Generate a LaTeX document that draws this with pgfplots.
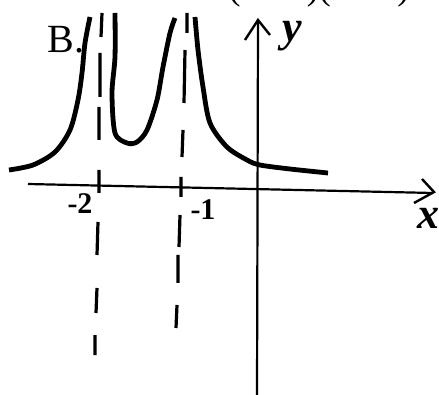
\documentclass[border=0pt]{standalone}
\usepackage{fontspec}
\setmainfont{Liberation Serif}
\usepackage{pgfplots}
\pgfplotsset{compat=1.18}
\begin{document}
\begin{tikzpicture}
\begin{axis}[name=ax,
  width=219.5pt, height=197.5pt, scale only axis,
  xmin=0, xmax=439, ymin=0, ymax=395, y dir=reverse,
  hide axis, clip=false, unbounded coords=jump]
% axes (hand drawn)
\addplot[black, line width=1.1pt] coordinates {(28,184) (433,193)};
\addplot[black, line width=1.2pt] coordinates {(422,179) (434,192) (414,203)};
\addplot[black, line width=1.1pt] coordinates {(257,395) (258,21)};
\addplot[black, line width=1.2pt] coordinates {(245,40) (258,20) (270,35)};
% asymptotes (dashes)
\addplot[black, line width=1.6pt] coordinates {
 (102,13) (101,37) (nan,nan) (100,53) (100,97) (nan,nan) (99,107) (99,140) (nan,nan)
 (99,170) (99,193) (nan,nan) (98,222) (97,255) (nan,nan) (97,288) (96,313) (nan,nan) (95,335) (95,355)};
\addplot[black, line width=1.6pt] coordinates {
 (187,13) (187,33) (nan,nan) (185,50) (184,103) (nan,nan) (183,130) (182,157) (nan,nan)
 (181,177) (181,197) (nan,nan) (180,215) (179,247) (nan,nan) (178,255) (178,283) (nan,nan) (177,305) (176,328)};
% curve branches
\addplot[black, line width=2.4pt, smooth] coordinates {
 (9,170) (33,165) (55,152) (70,130) (78,100) (82,73) (85,43) (90,17)};
\addplot[black, line width=2.4pt, smooth] coordinates {
 (115,13) (115,57) (112,93) (115,133) (127,143) (137,142) (147,130) (157,100) (163,67) (170,33) (175,18)};
\addplot[black, line width=2.4pt, smooth] coordinates {
 (195,17) (198,50) (203,87) (210,123) (227,147) (247,160) (260,165) (290,169) (328,173)};
% labels
\node[font=\fontsize{20}{22}\selectfont] at (axis cs:66,40) {B.};
\node[font=\fontsize{15}{17}\selectfont\bfseries] at (axis cs:80,204) {-2};
\node[font=\fontsize{15}{17}\selectfont\bfseries] at (axis cs:203,210) {-1};
\node[font=\fontsize{22}{24}\selectfont\itshape\bfseries] at (axis cs:292,36) {y};
\node[font=\fontsize{22}{24}\selectfont\itshape\bfseries] at (axis cs:428,218) {x};
\node[font=\fontsize{18}{20}\selectfont, anchor=base] at (axis cs:319,0) {(\textit{x}\,+\,1)(\textit{x}\,+\,2)};
\end{axis}
\pgfresetboundingbox
\path[use as bounding box] (ax.south west) rectangle (ax.north east);
\end{tikzpicture}
\end{document}
